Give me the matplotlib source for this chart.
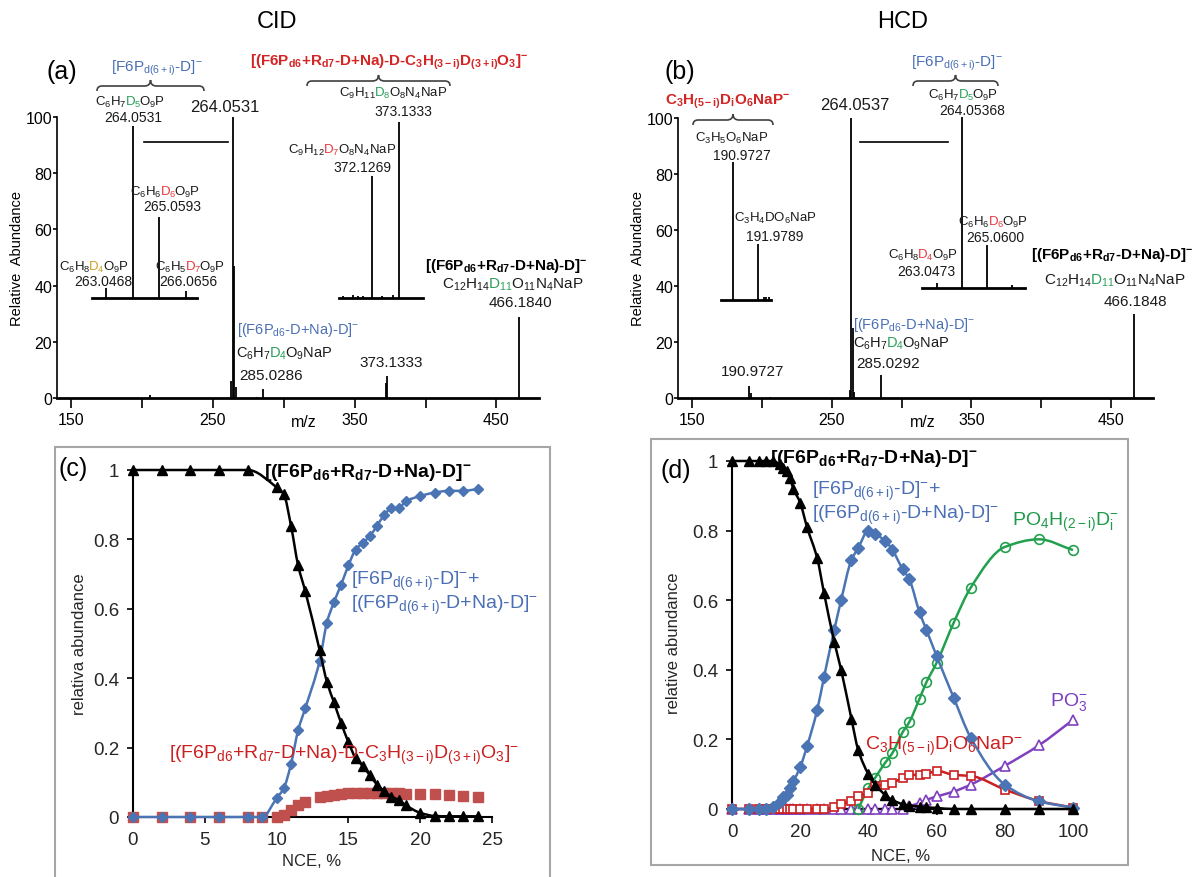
import matplotlib
matplotlib.use('Agg')
import matplotlib.pyplot as plt
import numpy as np
from matplotlib.path import Path
from matplotlib.patches import PathPatch, Rectangle
from matplotlib.lines import Line2D
from matplotlib.offsetbox import TextArea, HPacker, AnnotationBbox

plt.rcParams['font.family'] = 'Liberation Sans'
plt.rcParams['mathtext.fontset'] = 'custom'
plt.rcParams['mathtext.rm'] = 'Liberation Sans'
plt.rcParams['mathtext.it'] = 'Liberation Sans:italic'
plt.rcParams['mathtext.bf'] = 'Liberation Sans:bold'
plt.rcParams['mathtext.default'] = 'regular'

# ---- spectra (m/z, relative abundance %) ----
cid_mz = [205.8, 263.05, 264.05, 265.06, 266.07, 281.0, 285.03,
          371.05, 371.4, 371.6, 371.8, 372.13, 372.5, 372.9, 373.13, 466.18]
cid_int = [1.2, 6, 100, 47, 4, 0.5, 3.2,
           0.1, 0.12, 0.1, 0.1, 5.4, 0.08, 0.12, 7.8, 28.7]

hcd_mz = [190.97, 191.98, 192.2, 192.3, 192.4, 205.7,
          263.05, 264.05, 265.06, 266.07, 285.03, 466.18]
hcd_int = [4.2, 1.7, 0.08, 0.08, 0.08, 0.5,
           3, 100, 25, 2, 8.2, 30]

# ---- breakdown curves, CID ----
cid_nce_prec = [0, 2, 4, 6, 8, 10, 10.5, 11, 11.5, 12, 13, 13.5, 14, 14.5, 15,
                15.5, 16, 16.5, 17, 17.5, 18, 18.5, 19, 20, 21, 22, 23, 24]
cid_prec = [1, 1, 1, 1, 1, 0.95, 0.93, 0.84, 0.725, 0.65, 0.48, 0.39, 0.33, 0.27,
            0.216, 0.17, 0.147, 0.12, 0.093, 0.074, 0.059, 0.049, 0.034, 0.012,
            0.003, 0.002, 0.002, 0.002]
cid_nce = [0, 2, 4, 6, 8, 9, 10, 10.5, 11, 11.5, 12, 13, 13.5, 14, 14.5, 15, 15.5,
           16, 16.5, 17, 17.5, 18, 18.5, 19, 20, 21, 22, 23, 24]
cid_f6p = [0, 0, 0, 0, 0, 0, 0.054, 0.083, 0.152, 0.25, 0.314, 0.45, 0.56, 0.62,
           0.67, 0.725, 0.77, 0.79, 0.81, 0.84, 0.87, 0.89, 0.89, 0.91, 0.925,
           0.935, 0.94, 0.94, 0.945]
cid_loss = [0, 0, 0, 0, 0, 0, 0, 0.005, 0.02, 0.034, 0.044, 0.059, 0.061, 0.064,
            0.066, 0.069, 0.069, 0.069, 0.07, 0.069, 0.069, 0.069, 0.069, 0.067,
            0.067, 0.067, 0.064, 0.061, 0.057]

# ---- breakdown curves, HCD ----
hcd_nce = [0, 5, 8, 10, 12, 14, 15, 16, 17, 18, 20, 22, 25, 27, 30, 32, 35, 37,
           40, 42, 45, 47, 50, 52, 55, 57, 60, 65, 70, 80, 90, 100]
hcd_prec = [1, 1, 1, 1, 1, 0.99, 0.98, 0.97, 0.95, 0.92, 0.88, 0.81, 0.72, 0.62,
            0.48, 0.40, 0.26, 0.17, 0.10, 0.07, 0.04, 0.026, 0.014, 0.01, 0.007,
            0.005, 0.003, 0, 0, 0, 0, 0]
hcd_f6p = [0, 0, 0, 0, 0.005, 0.02, 0.035, 0.04, 0.06, 0.08, 0.12, 0.18, 0.285,
           0.38, 0.515, 0.60, 0.715, 0.75, 0.80, 0.79, 0.77, 0.745, 0.69, 0.66,
           0.565, 0.515, 0.44, 0.32, 0.205, 0.07, 0.022, 0.004]
hcd_c3 = [0, 0, 0, 0, 0, 0, 0, 0, 0, 0, 0, 0, 0, 0, 0.005, 0.014, 0.023, 0.038,
          0.046, 0.066, 0.07, 0.075, 0.09, 0.098, 0.098, 0.10, 0.11, 0.098, 0.095,
          0.056, 0.023, 0.004]
hcd_po4_nce = [37, 40, 42, 45, 47, 50, 52, 55, 57, 60, 65, 70, 80, 90, 100]
hcd_po4 = [0, 0.06, 0.09, 0.134, 0.16, 0.22, 0.25, 0.317, 0.364, 0.42, 0.535,
           0.636, 0.753, 0.775, 0.744]
hcd_po3 = [0] * 23 + [0.008, 0.017, 0.026, 0.036, 0.05, 0.07, 0.124, 0.183, 0.256]

W, H = 1198, 878
fig = plt.figure(figsize=(W / 100, H / 100), dpi=100)

BLUE_T = '#4a6fb5'
RED_T = '#d42525'
GREEN_D = '#2aa05a'
RED_D = '#e8383d'
GOLD_D = '#c9a227'
INK = '#1a1a1a'


def px_axes(l, t, r, b):
    return fig.add_axes([l / W, 1 - b / H, (r - l) / W, (b - t) / H])


def ftxt(x, y, s, **kw):
    kw.setdefault('ha', 'center')
    kw.setdefault('va', 'center')
    return fig.text(x / W, 1 - y / H, s, **kw)


def formula(x, y, parts, fs=9.5, ha='center'):
    # formula with coloured D-count: pieces packed side by side on one baseline
    boxes = [TextArea(s, textprops=dict(color=c, fontsize=fs)) for s, c in parts]
    pack = HPacker(children=boxes, align='baseline', pad=0, sep=-1.4)
    bx = {'left': 0, 'center': 0.5, 'right': 1}[ha]
    ab = AnnotationBbox(pack, (x / W, 1 - y / H), xycoords='figure fraction',
                        frameon=False, box_alignment=(bx, 0.5), pad=0)
    fig.add_artist(ab)


def brace(x0, x1, y, h=5, tip=6, color='#404040'):
    xm = (x0 + x1) / 2
    pts = [(x0, y + h), (x0, y), (x0 + h, y), (xm - tip, y), (xm, y), (xm, y - tip),
           (xm, y), (xm + tip, y), (x1 - h, y), (x1, y), (x1, y + h)]
    codes = [Path.MOVETO, Path.CURVE3, Path.CURVE3, Path.LINETO, Path.CURVE3,
             Path.CURVE3, Path.CURVE3, Path.CURVE3, Path.LINETO, Path.CURVE3,
             Path.CURVE3]
    verts = [(px / W, 1 - py / H) for px, py in pts]
    fig.add_artist(PathPatch(Path(verts, codes), fc='none', ec=color, lw=1.2,
                             transform=fig.transFigure))


def hline(x0, x1, y):
    fig.add_artist(Line2D([x0 / W, x1 / W], [1 - y / H, 1 - y / H], color='black',
                          lw=1.2, transform=fig.transFigure))


def smooth(ax, x, y, color, lw=1.8, z=2):
    # smoothed line through the points (monotone cubic, like a spreadsheet "smoothed line")
    x = np.asarray(x, float)
    y = np.asarray(y, float)
    dx = np.diff(x)
    d = np.diff(y) / dx
    m = np.zeros(len(x))
    m[0], m[-1] = d[0], d[-1]
    for k in range(1, len(x) - 1):
        if d[k - 1] * d[k] > 0:
            w1 = 2 * dx[k] + dx[k - 1]
            w2 = dx[k] + 2 * dx[k - 1]
            m[k] = (w1 + w2) / (w1 / d[k - 1] + w2 / d[k])
    verts = [(x[0], y[0])]
    codes = [Path.MOVETO]
    for i in range(len(x) - 1):
        h = dx[i] / 3
        verts += [(x[i] + h, y[i] + m[i] * h), (x[i + 1] - h, y[i + 1] - m[i + 1] * h),
                  (x[i + 1], y[i + 1])]
        codes += [Path.CURVE4] * 3
    ax.add_patch(PathPatch(Path(verts, codes), fc='none', ec=color, lw=lw,
                           transform=ax.transData, clip_on=False, zorder=z))


def spectrum_axes(ax):
    ax.set_xlim(140, 480)
    ax.set_ylim(0, 100)
    ax.patch.set_visible(False)
    for s in ['top', 'right']:
        ax.spines[s].set_visible(False)
    ax.spines['left'].set_linewidth(1.2)
    ax.spines['bottom'].set_linewidth(2.0)
    ax.set_yticks([0, 20, 40, 60, 80, 100])
    ax.set_xticks([150, 200, 250, 300, 350, 400, 450])
    ax.set_xticklabels(['150', '', '250', '', '350', '', '450'])
    ax.tick_params(axis='y', length=3, width=1.2, pad=0.5, labelsize=11.5)
    ax.tick_params(axis='x', length=7, width=1.2, pad=3, labelsize=11.5)


def inset(l, t, r, b, xlim, ylim, mz, inten):
    ax = px_axes(l, t, r, b)
    ax.vlines(mz, 0, inten, color='black', lw=1.3)
    ax.set_xlim(*xlim)
    ax.set_ylim(*ylim)
    ax.patch.set_visible(False)
    for s in ['top', 'right', 'left']:
        ax.spines[s].set_visible(False)
    ax.spines['bottom'].set_linewidth(2.0)
    ax.set_xticks([])
    ax.set_yticks([])
    return ax


# ================= (a) CID spectrum =================
ax_a = px_axes(57, 118, 539, 399)
spectrum_axes(ax_a)
ax_a.vlines(cid_mz, 0, cid_int, color='black', lw=1.3)
inset(92, 127, 197, 299, (262.5, 266.5), (0, 100), cid_mz, cid_int)
inset(339, 123, 423, 299, (370.9, 374.0), (0, 7.8), cid_mz, cid_int)

ftxt(277, 22, 'CID', fontsize=17)
ftxt(62, 72, '(a)', fontsize=18)
ftxt(157, 68, r'[F6P$_{d(6+i)}$-D]$^{-}$', color=BLUE_T, fontsize=11)
brace(97, 204, 87)
formula(130, 102, [('C$_6$H$_7$', INK), ('D$_5$', GREEN_D), ('O$_9$P', INK)])
ftxt(133, 118, '264.0531', fontsize=10, color=INK)
ftxt(225, 108, '264.0531', fontsize=12, color=INK)
hline(144, 228, 143)
ftxt(389, 62, r'[(F6P$_{d6}$+R$_{d7}$-D+Na)-D-C$_3$H$_{(3-i)}$D$_{(3+i)}$O$_3$]$^{-}$',
     color=RED_T, fontsize=11, fontweight='bold')
brace(307, 450, 82)
formula(393, 93, [('C$_9$H$_{11}$', INK), ('D$_8$', GREEN_D), ('O$_8$N$_4$NaP', INK)])
ftxt(403, 112, '373.1333', fontsize=10, color=INK)
formula(342, 150, [('C$_9$H$_{12}$', INK), ('D$_7$', RED_D), ('O$_8$N$_4$NaP', INK)])
ftxt(362, 168, '372.1269', fontsize=10, color=INK)
formula(165, 192, [('C$_6$H$_6$', INK), ('D$_6$', RED_D), ('O$_9$P', INK)])
ftxt(172, 207, '265.0593', fontsize=10, color=INK)
formula(94, 267, [('C$_6$H$_8$', INK), ('D$_4$', GOLD_D), ('O$_9$P', INK)])
ftxt(103, 282, '263.0468', fontsize=10, color=INK)
formula(190, 267, [('C$_6$H$_5$', INK), ('D$_7$', RED_D), ('O$_9$P', INK)])
ftxt(188, 282, '266.0656', fontsize=10, color=INK)
ftxt(506, 266, r'[(F6P$_{d6}$+R$_{d7}$-D+Na)-D]$^{-}$', fontsize=11, fontweight='bold')
formula(513, 285, [('C$_{12}$H$_{14}$', INK), ('D$_{11}$', GREEN_D),
                   ('O$_{11}$N$_4$NaP', INK)], fs=11)
ftxt(520, 303, '466.1840', fontsize=11, color=INK)
ftxt(237, 330, r'[(F6P$_{d6}$-D+Na)-D]$^{-}$', color=BLUE_T, fontsize=10.5, ha='left')
formula(236, 354, [('C$_6$H$_7$', INK), ('D$_4$', GREEN_D), ('O$_9$NaP', INK)],
        fs=10.5, ha='left')
ftxt(271, 376, '285.0286', fontsize=11, color=INK)
ftxt(391, 363, '373.1333', fontsize=11, color=INK)
ftxt(17, 258, 'Relative  Abundance', rotation=90, fontsize=10.5)
ftxt(304, 423, 'm/z', fontsize=11.5)

# ================= (b) HCD spectrum =================
ax_b = px_axes(678, 119, 1153, 399)
spectrum_axes(ax_b)
ax_b.vlines(hcd_mz, 0, hcd_int, color='black', lw=1.3)
inset(721, 163, 771, 301, (190.5, 192.5), (0, 4.2), hcd_mz, hcd_int)
inset(922, 118, 1025, 289, (262.45, 266.6), (0, 100), hcd_mz, hcd_int)

ftxt(903, 22, 'HCD', fontsize=17)
ftxt(680, 72, '(b)', fontsize=18)
ftxt(728, 102, r'C$_3$H$_{(5-i)}$D$_i$O$_6$NaP$^{-}$', color=RED_T, fontsize=11,
     fontweight='bold')
brace(693, 773, 121)
formula(732, 138, [('C$_3$H$_5$O$_6$NaP', INK)])
ftxt(742, 156, '190.9727', fontsize=10, color=INK)
formula(775, 218, [('C$_3$H$_4$DO$_6$NaP', INK)])
ftxt(775, 237, '191.9789', fontsize=10, color=INK)
ftxt(855, 105, '264.0537', fontsize=12, color=INK)
hline(860, 948, 143)
ftxt(957, 63, r'[F6P$_{d(6+i)}$-D]$^{-}$', color=BLUE_T, fontsize=11)
brace(913, 998, 82)
formula(963, 95, [('C$_6$H$_7$', INK), ('D$_5$', GREEN_D), ('O$_9$P', INK)])
ftxt(972, 111, '264.05368', fontsize=10, color=INK)
formula(993, 222, [('C$_6$H$_6$', INK), ('D$_6$', RED_D), ('O$_9$P', INK)])
ftxt(995, 238, '265.0600', fontsize=10, color=INK)
formula(923, 255, [('C$_6$H$_8$', INK), ('D$_4$', RED_D), ('O$_9$P', INK)])
ftxt(926, 272, '263.0473', fontsize=10, color=INK)
ftxt(1112, 255, r'[(F6P$_{d6}$+R$_{d7}$-D+Na)-D]$^{-}$', fontsize=11, fontweight='bold')
formula(1115, 281, [('C$_{12}$H$_{14}$', INK), ('D$_{11}$', GREEN_D),
                    ('O$_{11}$N$_4$NaP', INK)], fs=11)
ftxt(1135, 302, '466.1848', fontsize=11, color=INK)
ftxt(853, 325, r'[(F6P$_{d6}$-D+Na)-D]$^{-}$', color=BLUE_T, fontsize=10.5, ha='left')
formula(853, 344, [('C$_6$H$_7$', INK), ('D$_4$', GREEN_D), ('O$_9$NaP', INK)],
        fs=10.5, ha='left')
ftxt(888, 364, '285.0292', fontsize=11, color=INK)
ftxt(753, 372, '190.9727', fontsize=11, color=INK)
ftxt(638, 258, 'Relative  Abundance', rotation=90, fontsize=10.5)
ftxt(923, 423, 'm/z', fontsize=11.5)


# ================= breakdown panels =================
def breakdown_axes(ax, xlim, xticks):
    ax.set_xlim(*xlim)
    ax.set_ylim(0, 1)
    ax.patch.set_visible(False)
    for s in ['top', 'right']:
        ax.spines[s].set_visible(False)
    for s in ['left', 'bottom']:
        ax.spines[s].set_linewidth(1.5)
    ax.set_yticks([0, 0.2, 0.4, 0.6, 0.8, 1])
    ax.set_yticklabels(['0', '0.2', '0.4', '0.6', '0.8', '1'])
    ax.set_xticks(xticks)
    ax.tick_params(axis='both', length=4, width=1.2, pad=6, labelsize=13.5,
                   labelcolor='#262626')


fig.add_artist(Rectangle((55 / W, 1 - 890 / H), 495 / W, 442 / H, fill=False,
                         ec='#a6a6a6', lw=1.5, transform=fig.transFigure))
fig.add_artist(Rectangle((651 / W, 1 - 866 / H), 477 / W, 426 / H, fill=False,
                         ec='#a6a6a6', lw=1.5, transform=fig.transFigure))

# (c)
ax_c = px_axes(133, 471, 492, 818)
breakdown_axes(ax_c, (0, 25), [0, 5, 10, 15, 20, 25])
ax_c.plot(cid_nce, cid_loss, ls='none', marker='s', ms=7.5, color='#c0504d',
          clip_on=False, zorder=3)
smooth(ax_c, cid_nce, cid_f6p, '#4a74b4', z=4)
ax_c.plot(cid_nce, cid_f6p, ls='none', marker='D', ms=5.5, color='#4a74b4',
          clip_on=False, zorder=4)
smooth(ax_c, cid_nce_prec, cid_prec, 'black', z=5)
ax_c.plot(cid_nce_prec, cid_prec, ls='none', marker='^', ms=7, color='black',
          clip_on=False, zorder=5)

ftxt(73, 469, '(c)', fontsize=18)
ftxt(264, 473, r'[(F6P$_{d6}$+R$_{d7}$-D+Na)-D]$^{-}$', fontsize=14, fontweight='bold',
     ha='left')
ftxt(351, 581, r'[F6P$_{d(6+i)}$-D]$^{-}$+', fontsize=14, color=BLUE_T, ha='left')
ftxt(351, 605, r'[(F6P$_{d(6+i)}$-D+Na)-D]$^{-}$', fontsize=14, color=BLUE_T, ha='left')
ftxt(169, 755, r'[(F6P$_{d6}$+R$_{d7}$-D+Na)-D-C$_3$H$_{(3-i)}$D$_{(3+i)}$O$_3$]$^{-}$',
     fontsize=14, color='#cc1f1f', ha='left')
ftxt(80, 644, 'relativa abundance', rotation=90, fontsize=12, color='#262626')
ftxt(312, 862, 'NCE, %', fontsize=12, color='#262626')

# (d)
ax_d = px_axes(732, 462, 1073, 810)
breakdown_axes(ax_d, (0, 100), [0, 20, 40, 60, 80, 100])
smooth(ax_d, hcd_nce, hcd_po3, '#8040c0', z=2)
ax_d.plot(hcd_nce, hcd_po3, ls='none', marker='^', ms=7.5, mfc='white',
          mec='#8040c0', mew=1.2, clip_on=False, zorder=3)
smooth(ax_d, hcd_po4_nce, hcd_po4, '#22a04e', z=3)
ax_d.plot(hcd_po4_nce, hcd_po4, ls='none', marker='o', ms=7, mfc='none',
          mec='#22a04e', mew=1.2, clip_on=False, zorder=3.5)
smooth(ax_d, hcd_nce, hcd_c3, '#cc1f1f', z=4)
ax_d.plot(hcd_nce, hcd_c3, ls='none', marker='s', ms=6, mfc='white',
          mec='#cc1f1f', mew=1.2, clip_on=False, zorder=4)
smooth(ax_d, hcd_nce, hcd_f6p, '#4a74b4', z=5)
ax_d.plot(hcd_nce, hcd_f6p, ls='none', marker='D', ms=6.5, color='#4a74b4',
          clip_on=False, zorder=5)
smooth(ax_d, hcd_nce, hcd_prec, 'black', z=6)
ax_d.plot(hcd_nce, hcd_prec, ls='none', marker='^', ms=7, color='black',
          clip_on=False, zorder=6)

ftxt(676, 471, '(d)', fontsize=18)
ftxt(770, 459, r'[(F6P$_{d6}$+R$_{d7}$-D+Na)-D]$^{-}$', fontsize=14, fontweight='bold',
     ha='left')
ftxt(812, 491, r'[F6P$_{d(6+i)}$-D]$^{-}$+', fontsize=14, color=BLUE_T, ha='left')
ftxt(812, 515, r'[(F6P$_{d(6+i)}$-D+Na)-D]$^{-}$', fontsize=14, color=BLUE_T, ha='left')
ftxt(1012, 522, r'PO$_4$H$_{(2-i)}$D$_i^{-}$', fontsize=14, color='#1f9a4a', ha='left')
ftxt(1050, 702, r'PO$_3^{-}$', fontsize=14, color='#7b3fc0', ha='left')
ftxt(865, 746, r'C$_3$H$_{(5-i)}$D$_i$O$_6$NaP$^{-}$', fontsize=14, color='#cc1f1f',
     ha='left')
ftxt(674, 643, 'relative abundance', rotation=90, fontsize=12, color='#262626')
ftxt(901, 857, 'NCE, %', fontsize=12, color='#262626')

fig.savefig('out.png', dpi=100)
